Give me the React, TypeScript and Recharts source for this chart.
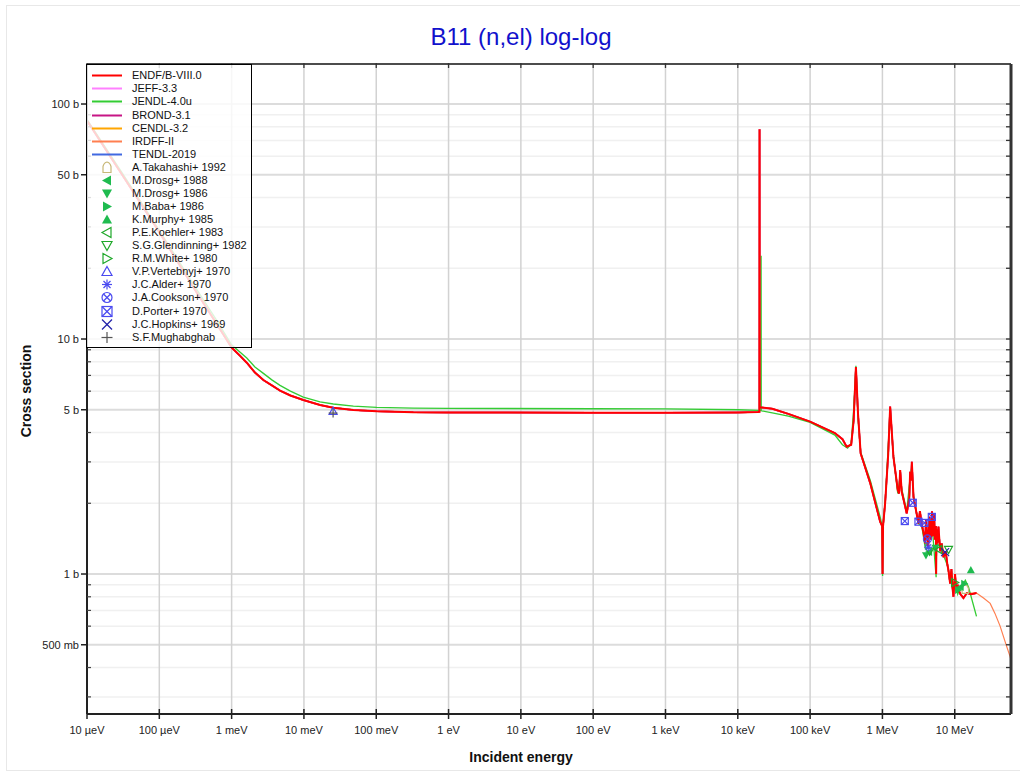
import React from 'react';
import { ComposedChart, Line, Scatter, XAxis, YAxis, CartesianGrid } from 'recharts';

// ---------- axis definitions ----------
const X_TICKS = [1e-5, 1e-4, 1e-3, 1e-2, 1e-1, 1, 1e1, 1e2, 1e3, 1e4, 1e5, 1e6, 1e7];
const X_LABELS = ['10 µeV', '100 µeV', '1 meV', '10 meV', '100 meV', '1 eV', '10 eV', '100 eV', '1 keV', '10 keV', '100 keV', '1 MeV', '10 MeV'];
const Y_MAJOR = [0.5, 1, 5, 10, 50, 100];
const Y_MAJOR_LABELS = ['500 mb', '1 b', '5 b', '10 b', '50 b', '100 b'];
const Y_MINOR = [0.3, 0.4, 0.6, 0.7, 0.8, 0.9, 2, 3, 4, 6, 7, 8, 9, 20, 30, 40, 60, 70, 80, 90];
const Y_TICKS = [...Y_MAJOR, ...Y_MINOR].sort((a, b) => a - b);
const X_DOMAIN = [1e-5, 6e7];
const Y_DOMAIN = [0.2537, 148];

// ---------- evaluated data ----------
const endfE = [1e-5, 3e-5, 1e-4, 3e-4, 6e-4, 1e-3, 1.3e-3, 1.62e-3, 2.1e-3, 2.75e-3, 3.6e-3, 4.67e-3, 6.5e-3, 9.8e-3, 1.67e-2, 2.55e-2, 4.83e-2, 0.1016, 0.326, 1, 1e2, 1e3, 1e4, 1.9e4, 1.99e4, 2.0e4, 2.01e4, 3e4, 5e4, 1e5, 2.2e5, 2.8e5, 3.2e5, 3.7e5, 4.0e5, 4.3e5, 4.6e5, 5.0e5, 6.8e5, 9.3e5, 9.9e5, 1.005e6, 1.02e6, 1.09e6, 1.2e6, 1.28e6, 1.42e6, 1.63e6, 1.7e6, 1.76e6, 1.85e6, 2.17e6, 2.35e6, 2.42e6, 2.5e6, 2.55e6, 2.69e6, 3.15e6, 3.3e6, 3.51e6, 3.7e6, 3.9e6, 4.0e6, 4.1e6, 4.3e6, 4.45e6, 4.57e6, 4.7e6, 4.85e6, 4.95e6, 5.07e6, 5.2e6, 5.3e6, 5.5e6, 5.53e6, 5.6e6, 5.75e6, 5.95e6, 6.3e6, 6.6e6, 6.98e6, 7.5e6, 7.9e6, 8.18e6, 8.64e6, 9.0e6, 9.3e6, 9.6e6, 1.01e7, 1.05e7, 1.1e7, 1.13e7, 1.2e7, 1.32e7, 1.47e7, 1.7e7, 2.0e7];
const endfXS = [85, 50.5, 28.5, 16.5, 11.8, 9.2, 8.5, 7.93, 7.2, 6.69, 6.35, 6.03, 5.75, 5.5, 5.24, 5.1, 4.99, 4.93, 4.88, 4.87, 4.86, 4.86, 4.87, 4.89, 4.9, 78, 5.12, 5.05, 4.8, 4.45, 3.98, 3.75, 3.48, 3.55, 4.5, 7.6, 4.8, 3.26, 2.43, 1.67, 1.6, 1.0, 1.6, 2.0, 3.2, 5.16, 3.15, 2.28, 2.2, 2.77, 2.24, 1.81, 2.1, 2.72, 2.5, 3.0, 2.13, 1.64, 1.85, 1.62, 1.5, 1.35, 1.7, 1.55, 1.3, 1.75, 1.59, 1.4, 1.85, 1.45, 1.7, 1.8, 1.4, 1.6, 1.0, 1.55, 1.35, 1.59, 1.25, 1.35, 1.18, 1.25, 1.1, 1.04, 0.91, 1.05, 0.88, 0.8, 1.0, 0.85, 0.9, 0.855, 0.82, 0.79, 0.83, 0.82, 0.83];

const jendlE = [1e-5, 3e-5, 1e-4, 3e-4, 6e-4, 1e-3, 1.3e-3, 1.62e-3, 2.1e-3, 2.75e-3, 3.6e-3, 4.67e-3, 6.5e-3, 9.8e-3, 1.67e-2, 2.55e-2, 4.83e-2, 0.1016, 0.326, 1, 1e2, 1e3, 1e4, 1.9e4, 2.09e4, 2.1e4, 2.11e4, 3e4, 5e4, 1e5, 2.2e5, 2.8e5, 3.3e5, 3.7e5, 4.0e5, 4.3e5, 4.6e5, 5e5, 6.8e5, 9.3e5, 9.9e5, 1.005e6, 1.02e6, 1.1e6, 1.28e6, 1.42e6, 1.63e6, 1.76e6, 1.85e6, 2.17e6, 2.42e6, 2.55e6, 2.69e6, 3.15e6, 3.5e6, 3.9e6, 4.3e6, 4.6e6, 5.0e6, 5.53e6, 5.6e6, 6.5e6, 7e6, 8e6, 8.5e6, 9e6, 9.6e6, 1.0e7, 1.1e7, 1.2e7, 1.3e7, 1.4e7, 1.55e7, 2.0e7];
const jendlXS = [86, 51.5, 29, 17, 12.2, 9.45, 8.8, 8.3, 7.6, 7.14, 6.7, 6.35, 6.0, 5.66, 5.4, 5.29, 5.18, 5.12, 5.08, 5.07, 5.05, 5.04, 5.0, 4.97, 4.96, 22.6, 4.95, 4.85, 4.7, 4.42, 3.9, 3.55, 3.43, 3.6, 5.0, 7.7, 4.6, 3.3, 2.5, 1.75, 1.6, 0.98, 1.6, 2.1, 5.0, 3.2, 2.2, 2.6, 2.3, 1.85, 2.6, 2.85, 2.15, 1.64, 1.6, 1.3, 1.4, 1.55, 1.45, 0.97, 1.35, 1.3, 1.2, 1.08, 0.95, 1.03, 0.85, 0.95, 0.82, 0.88, 0.9, 0.94, 0.88, 0.66];

const irdffE = [1.47e7, 2.0e7, 2.5e7, 3.09e7, 3.6e7, 4.24e7, 5.25e7, 5.84e7, 6e7];
const irdffXS = [0.83, 0.83, 0.79, 0.75, 0.68, 0.6, 0.49, 0.445, 0.43];

// ---------- experimental data ----------
const takahashiE = [1.4e7];
const takahashiXS = [0.86];
const drosg88E = [4.4e6, 1.2e7];
const drosg88XS = [1.24, 0.88];
const drosg86E = [4.0e6, 5.4e6];
const drosg86XS = [1.2, 1.29];
const babaE = [1.12e7, 1.36e7];
const babaXS = [0.855, 0.91];
const murphyE = [1.67e7];
const murphyXS = [1.04];
const koehlerE = [6.0e6];
const koehlerXS = [1.27];
const glendinningE = [4.5e6, 8.2e6];
const glendinningXS = [1.25, 1.27];
const whiteE = [1.0e7];
const whiteXS = [0.92];
const vertebnyjE = [0.0253];
const vertebnyjXS = [4.93];
const alderE = [4.3e6];
const alderXS = [1.3];
const cooksonE = [4.19e6];
const cooksonXS = [1.41];
const porterE = [2.04e6, 2.63e6, 3.15e6, 3.81e6, 4.82e6];
const porterXS = [1.68, 2.01, 1.67, 1.65, 1.75];
const hopkinsE = [7.36e6];
const hopkinsXS = [1.24];
const mughabghabE = [0.0253];
const mughabghabXS = [4.84];

const toPts = (xs: number[], ys: number[]) => xs.map((x, i) => ({ x, y: ys[i] }));

const FONT = '"Liberation Sans", Arial, Helvetica, sans-serif';
const GREEN_F = '#1fbb4f';
const GREEN_O = '#1fa82a';
const BLUE = '#4a4af0';
const NAVY = '#2222aa';

const LIBS = [
  { name: 'ENDF/B-VIII.0', color: '#ff0000', e: endfE, xs: endfXS, w: 2 },
  { name: 'JEFF-3.3', color: '#ff80ff', e: endfE, xs: endfXS, w: 1.5 },
  { name: 'JENDL-4.0u', color: '#33cc33', e: jendlE, xs: jendlXS, w: 1.3 },
  { name: 'BROND-3.1', color: '#c71585', e: endfE, xs: endfXS, w: 1.5 },
  { name: 'CENDL-3.2', color: '#ffa500', e: endfE, xs: endfXS, w: 1.5 },
  { name: 'IRDFF-II', color: '#ff7f50', e: irdffE, xs: irdffXS, w: 1.2 },
  { name: 'TENDL-2019', color: '#4169e1', e: endfE, xs: endfXS, w: 1.5 },
];

const EXPS = [
  { name: 'A.Takahashi+ 1992', kind: 'house', color: '#c8b878', e: takahashiE, xs: takahashiXS },
  { name: 'M.Drosg+ 1988', kind: 'left', color: GREEN_F, e: drosg88E, xs: drosg88XS },
  { name: 'M.Drosg+ 1986', kind: 'down', color: GREEN_F, e: drosg86E, xs: drosg86XS },
  { name: 'M.Baba+ 1986', kind: 'right', color: GREEN_F, e: babaE, xs: babaXS },
  { name: 'K.Murphy+ 1985', kind: 'up', color: GREEN_F, e: murphyE, xs: murphyXS },
  { name: 'P.E.Koehler+ 1983', kind: 'oleft', color: GREEN_O, e: koehlerE, xs: koehlerXS },
  { name: 'S.G.Glendinning+ 1982', kind: 'odown', color: GREEN_O, e: glendinningE, xs: glendinningXS },
  { name: 'R.M.White+ 1980', kind: 'oright', color: GREEN_O, e: whiteE, xs: whiteXS },
  { name: 'V.P.Vertebnyj+ 1970', kind: 'oup', color: BLUE, e: vertebnyjE, xs: vertebnyjXS },
  { name: 'J.C.Alder+ 1970', kind: 'star', color: BLUE, e: alderE, xs: alderXS },
  { name: 'J.A.Cookson+ 1970', kind: 'circx', color: BLUE, e: cooksonE, xs: cooksonXS },
  { name: 'D.Porter+ 1970', kind: 'boxx', color: BLUE, e: porterE, xs: porterXS },
  { name: 'J.C.Hopkins+ 1969', kind: 'x', color: NAVY, e: hopkinsE, xs: hopkinsXS },
  { name: 'S.F.Mughabghab', kind: 'plus', color: '#555555', e: mughabghabE, xs: mughabghabXS },
];

function Marker({ kind, cx, cy, color, s = 4 }: { kind: string; cx: number; cy: number; color: string; s?: number }) {
  const tri = (pts: number[][]) => pts.map((p) => `${cx + p[0] * s},${cy + p[1] * s}`).join(' ');
  const up = [[0, -1], [1, 0.8], [-1, 0.8]];
  const down = [[0, 1], [1, -0.8], [-1, -0.8]];
  const left = [[-1, 0], [0.8, -1], [0.8, 1]];
  const right = [[1, 0], [-0.8, -1], [-0.8, 1]];
  const sw = 1.2;
  switch (kind) {
    case 'up': return <polygon points={tri(up)} fill={color} />;
    case 'down': return <polygon points={tri(down)} fill={color} />;
    case 'left': return <polygon points={tri(left)} fill={color} />;
    case 'right': return <polygon points={tri(right)} fill={color} />;
    case 'oup': return <polygon points={tri(up)} fill="none" stroke={color} strokeWidth={sw} />;
    case 'odown': return <polygon points={tri(down)} fill="none" stroke={color} strokeWidth={sw} />;
    case 'oleft': return <polygon points={tri(left)} fill="none" stroke={color} strokeWidth={sw} />;
    case 'oright': return <polygon points={tri(right)} fill="none" stroke={color} strokeWidth={sw} />;
    case 'house':
      return <path d={`M${cx - s * 0.8},${cy + s} L${cx - s * 0.8},${cy - s * 0.2} Q${cx - s * 0.6},${cy - s} ${cx},${cy - s * 1.1} Q${cx + s * 0.6},${cy - s} ${cx + s * 0.8},${cy - s * 0.2} L${cx + s * 0.8},${cy + s} Z`} fill="none" stroke={color} strokeWidth={sw} />;
    case 'star':
      return (
        <g stroke={color} strokeWidth={sw}>
          <line x1={cx - s} x2={cx + s} y1={cy} y2={cy} />
          <line x1={cx} x2={cx} y1={cy - s} y2={cy + s} />
          <line x1={cx - s * 0.7} x2={cx + s * 0.7} y1={cy - s * 0.7} y2={cy + s * 0.7} />
          <line x1={cx - s * 0.7} x2={cx + s * 0.7} y1={cy + s * 0.7} y2={cy - s * 0.7} />
        </g>
      );
    case 'circx':
      return (
        <g stroke={color} strokeWidth={sw} fill="none">
          <circle cx={cx} cy={cy} r={s} />
          <line x1={cx - s * 0.7} x2={cx + s * 0.7} y1={cy - s * 0.7} y2={cy + s * 0.7} />
          <line x1={cx - s * 0.7} x2={cx + s * 0.7} y1={cy + s * 0.7} y2={cy - s * 0.7} />
        </g>
      );
    case 'boxx':
      return (
        <g stroke={color} strokeWidth={sw} fill="none">
          <rect x={cx - s} y={cy - s} width={2 * s} height={2 * s} />
          <line x1={cx - s} x2={cx + s} y1={cy - s} y2={cy + s} />
          <line x1={cx - s} x2={cx + s} y1={cy + s} y2={cy - s} />
        </g>
      );
    case 'x':
      return (
        <g stroke={color} strokeWidth={sw}>
          <line x1={cx - s} x2={cx + s} y1={cy - s} y2={cy + s} />
          <line x1={cx - s} x2={cx + s} y1={cy + s} y2={cy - s} />
        </g>
      );
    case 'plus':
      return (
        <g stroke={color} strokeWidth={sw}>
          <line x1={cx - s * 1.1} x2={cx + s * 1.1} y1={cy} y2={cy} />
          <line x1={cx} x2={cx} y1={cy - s * 1.1} y2={cy + s * 1.1} />
        </g>
      );
    default:
      return null;
  }
}

const TS = 6;
const TM = 2;

const YTickLeft = (props: any) => {
  const { x, y, payload } = props;
  const v = payload.value;
  const ax = x + TS + TM;
  const i = Y_MAJOR.indexOf(v);
  if (i >= 0) {
    return (
      <g>
        <line x1={ax - 6} x2={ax} y1={y} y2={y} stroke="#222" strokeWidth={1.5} />
        <text x={ax - 8} y={y + 4} textAnchor="end" fontSize={11} fontFamily={FONT} fill="#222">{Y_MAJOR_LABELS[i]}</text>
      </g>
    );
  }
  return <line x1={ax} x2={ax + 4} y1={y} y2={y} stroke="#444" strokeWidth={1.2} />;
};

const YTickRight = (props: any) => {
  const { x, y } = props;
  const ax = x - TS - TM;
  return <line x1={ax - 5} x2={ax} y1={y} y2={y} stroke="#333" strokeWidth={1.3} />;
};

const XTickBottom = (props: any) => {
  const { x, y, payload } = props;
  const ay = y - TS - TM;
  const i = X_TICKS.indexOf(payload.value);
  return (
    <g>
      <line x1={x} x2={x} y1={ay - 5} y2={ay + 5} stroke="#222" strokeWidth={1.5} />
      <text x={x} y={ay + 20} textAnchor="middle" fontSize={11} fontFamily={FONT} fill="#222">{X_LABELS[i]}</text>
    </g>
  );
};

const XTickTop = (props: any) => {
  const { x, y } = props;
  const ay = y + TS + TM;
  return <line x1={x} x2={x} y1={ay - 1} y2={ay + 4} stroke="#333" strokeWidth={1.3} />;
};

function LegendBox() {
  const rows: any[] = [
    ...LIBS.map((l) => ({ name: l.name, line: l.color })),
    ...EXPS.map((e) => ({ name: e.name, kind: e.kind, color: e.color })),
  ];
  return (
    <div style={{ position: 'absolute', left: 86, top: 64, width: 166, height: 284, border: '1px solid #000', background: 'rgba(255,255,255,0.82)', boxSizing: 'border-box' }}>
      {rows.map((r, i) => (
        <div key={i} style={{ position: 'absolute', left: 0, top: 4.3 + i * 13.07, height: 13, width: '100%' }}>
          <svg width={44} height={13} style={{ position: 'absolute', left: 0, top: 0, overflow: 'visible' }}>
            {r.line ? (
              <line x1={5} x2={35} y1={6.5} y2={6.5} stroke={r.line} strokeWidth={2} />
            ) : (
              <Marker kind={r.kind} cx={20} cy={6.5} color={r.color} s={5} />
            )}
          </svg>
          <span style={{ position: 'absolute', left: 45, top: 0, fontSize: 11, lineHeight: '13px', fontFamily: FONT, color: '#111', whiteSpace: 'nowrap' }}>{r.name}</span>
        </div>
      ))}
    </div>
  );
}

export default function App() {
  return (
    <div style={{ position: 'absolute', left: 0, top: 0, width: 1020, height: 774, background: '#fff', overflow: 'hidden' }}>
      <div style={{ position: 'absolute', left: 6, top: 5, width: 1030, height: 764, border: '1px solid #e8e8e8' }} />
      <svg width={1020} height={774} style={{ position: 'absolute', left: 0, top: 0 }}>
        <text x={521} y={45} textAnchor="middle" fontSize={24} fontFamily={FONT} fill="#1111cc">B11 (n,el) log-log</text>
        <text x={521} y={762} textAnchor="middle" fontSize={14} fontWeight="bold" fontFamily={FONT} fill="#111">Incident energy</text>
        <text transform="translate(31,391) rotate(-90)" textAnchor="middle" fontSize={14} fontWeight="bold" fontFamily={FONT} fill="#111">Cross section</text>
      </svg>
      <div style={{ position: 'absolute', left: 0, top: 0 }}>
        <ComposedChart width={1020} height={774} margin={{ top: 54, right: 0, bottom: 0, left: 0 }}>
          <CartesianGrid horizontalValues={Y_MINOR} vertical={false} stroke="#f0f0f0" strokeWidth={1.5} />
          <CartesianGrid horizontalValues={Y_MAJOR} vertical={false} stroke="#dcdcdc" strokeWidth={2} />
          <CartesianGrid verticalValues={X_TICKS} horizontal={false} stroke="#d2d2d2" strokeWidth={1.5} />
          <XAxis dataKey="x" type="number" scale="log" domain={X_DOMAIN} allowDataOverflow ticks={X_TICKS} interval={0}
            tick={<XTickBottom />} tickLine={false} tickSize={TS} tickMargin={TM} height={60}
            axisLine={{ stroke: '#222', strokeWidth: 2 }} />
          <XAxis xAxisId="top" orientation="top" dataKey="x" type="number" scale="log" domain={X_DOMAIN} allowDataOverflow ticks={X_TICKS} interval={0}
            tick={<XTickTop />} tickLine={false} tickSize={TS} tickMargin={TM} height={10}
            axisLine={{ stroke: '#111', strokeWidth: 1.5 }} />
          <YAxis dataKey="y" type="number" scale="log" domain={Y_DOMAIN} allowDataOverflow ticks={Y_TICKS} interval={0}
            tick={<YTickLeft />} tickLine={false} tickSize={TS} tickMargin={TM} width={87}
            axisLine={{ stroke: '#222', strokeWidth: 2 }} />
          <YAxis yAxisId="r" orientation="right" dataKey="y" type="number" scale="log" domain={Y_DOMAIN} allowDataOverflow ticks={Y_TICKS} interval={0}
            tick={<YTickRight />} tickLine={false} tickSize={TS} tickMargin={TM} width={9}
            axisLine={{ stroke: '#333', strokeWidth: 3 }} />
          {[6, 4, 3, 1, 5, 2, 0].map((k) => {
            const l = LIBS[k];
            return (
              <Line key={l.name} name={l.name} data={toPts(l.e, l.xs)} dataKey="y" type="linear"
                stroke={l.color} strokeWidth={l.w} dot={false} activeDot={false} isAnimationActive={false} />
            );
          })}
          {EXPS.map((ex) => (
            <Scatter key={ex.name} name={ex.name} data={toPts(ex.e, ex.xs)} isAnimationActive={false}
              shape={(p: any) => <Marker kind={ex.kind} cx={p.cx} cy={p.cy} color={ex.color} s={ex.kind === 'boxx' ? 3.5 : 4} />} />
          ))}
        </ComposedChart>
      </div>
      <LegendBox />
    </div>
  );
}
